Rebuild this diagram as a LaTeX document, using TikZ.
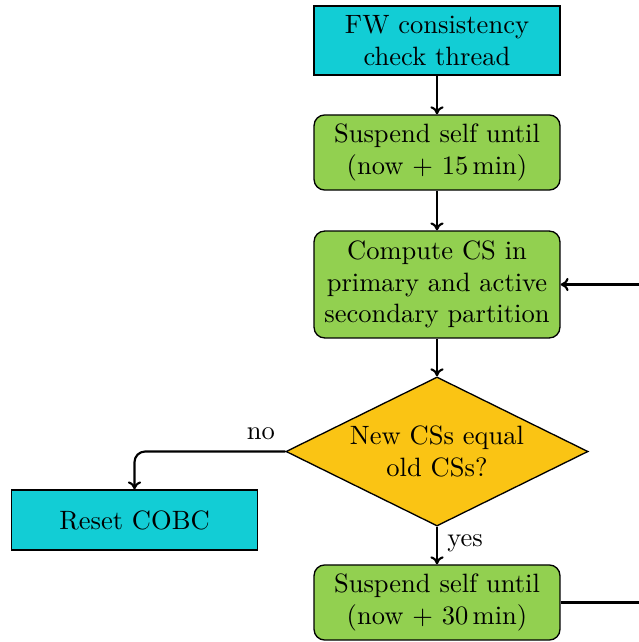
\documentclass[tikz,border=0pt]{standalone}
\usetikzlibrary{shapes.geometric,arrows.meta}

\definecolor{boxcyan}{RGB}{18,205,213}
\definecolor{boxgreen}{RGB}{146,208,80}
\definecolor{boxyellow}{RGB}{250,196,20}

\begin{document}
\begin{tikzpicture}[x=0.377pt,y=-0.377pt,
  base/.style={draw=black,line width=0.5pt,align=center,text width=90pt,
    minimum width=92.7pt,inner sep=0pt,font=\normalsize},
  startbox/.style={base,fill=boxcyan},
  procbox/.style={base,fill=boxgreen,rounded corners=4pt},
  decision/.style={diamond,draw=black,line width=0.5pt,fill=boxyellow,
    align=center,aspect=2,inner sep=0pt,minimum width=113.9pt,minimum height=56.2pt},
  flow/.style={thick,-{To[length=3pt,width=5pt]}}]

  \clip (0,0) rectangle (639,642);
  \useasboundingbox (0,0) rectangle (639,642);

  \node[startbox,minimum height=26pt] (start) at (437,40.5)
    {FW consistency\\check thread};
  \node[procbox,minimum height=28.3pt] (wait1) at (437,152.5)
    {Suspend self until\\(now + 15\,min)};
  \node[procbox,minimum height=40.3pt] (compute) at (437,284.5)
    {Compute CS in\\primary and active\\secondary partition};
  \node[decision] (check) at (437,451.5) {New CSs equal\\old CSs?};
  \node[startbox,minimum height=22.6pt] (reset) at (134.5,520) {Reset COBC};
  \node[procbox,minimum height=28.3pt] (wait2) at (437,602.5)
    {Suspend self until\\(now + 30\,min)};

  \coordinate (loopA) at (660,602.5);
  \coordinate (loopB) at (660,284.5);

  \draw[flow] (start) -- (wait1);
  \draw[flow] (wait1) -- (compute);
  \draw[flow] (compute) -- (check);
  \draw[flow,rounded corners=4pt] (check.west) -| (reset.north);
  \draw[flow] (check) -- (wait2);
  \draw[flow] (wait2.east) -- (loopA) -- (loopB) -- (compute.east);

  \node (nolabel) at (261,434) {no};
  \node (yeslabel) at (465,543) {yes};
\end{tikzpicture}
\end{document}
